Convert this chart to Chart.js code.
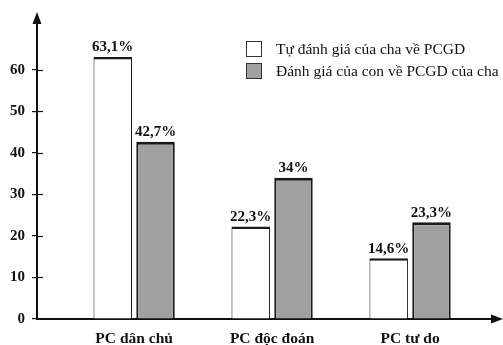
<!DOCTYPE html>
<html>
<head>
<meta charset="utf-8">
<script src="https://cdn.jsdelivr.net/npm/chart.js@4.4.0/dist/chart.umd.min.js"></script>
<style>
  html, body { margin: 0; padding: 0; background: #fff; }
  #wrap { width: 503px; height: 345px; position: relative; }
</style>
</head>
<body>
<div id="wrap"><canvas id="c" width="503" height="345"></canvas></div>
<script>
// Parenting styles and the two ratings compared
const categories = ['PC dân chủ', 'PC độc đoán', 'PC tư do'];
const fatherSelf = [63.1, 22.3, 14.6];
const childView = [42.7, 34, 23.3];
const seriesNames = ['Tự đánh giá của cha về PCGD', 'Đánh giá của con về PCGD của cha'];
const yTicks = [0, 10, 20, 30, 40, 50, 60];

const SERIF = '"Liberation Serif", "DejaVu Serif", serif';

const toPoints = vals => vals.map((v, i) => ({ x: i, y: v }));
const fmtPct = v => String(v).replace('.', ',') + '%';

// Arrowed axes, inner tick stubs, value labels and legend
const decor = {
  id: 'decor',
  afterDraw(chart) {
    const ctx = chart.ctx;
    const a = chart.chartArea;
    const ys = chart.scales.y;
    ctx.save();
    ctx.strokeStyle = '#111';
    ctx.fillStyle = '#111';
    // vertical axis extension and arrow
    ctx.lineWidth = 2;
    ctx.beginPath();
    ctx.moveTo(a.left, a.top + 2);
    ctx.lineTo(a.left, 20);
    ctx.stroke();
    ctx.beginPath();
    ctx.moveTo(a.left, 12);
    ctx.lineTo(a.left - 4.5, 24);
    ctx.lineTo(a.left + 4.5, 24);
    ctx.closePath();
    ctx.fill();
    // horizontal axis arrow
    ctx.beginPath();
    ctx.moveTo(503, a.bottom);
    ctx.lineTo(491, a.bottom - 4.5);
    ctx.lineTo(491, a.bottom + 4.5);
    ctx.closePath();
    ctx.fill();
    // tick stubs on the inner side of the vertical axis
    ctx.lineWidth = 1.2;
    ys.ticks.forEach(t => {
      if (t.value === 0) return;
      const py = Math.round(ys.getPixelForValue(t.value)) + 0.5;
      ctx.beginPath();
      ctx.moveTo(a.left, py);
      ctx.lineTo(a.left + 6, py);
      ctx.stroke();
    });
    // value labels above bars
    ctx.font = 'bold 15px ' + SERIF;
    ctx.textAlign = 'center';
    ctx.textBaseline = 'bottom';
    chart.data.datasets.forEach((ds, di) => {
      chart.getDatasetMeta(di).data.forEach((bar, i) => {
        ctx.fillText(fmtPct(ds.data[i].y), bar.x, bar.y - 2);
      });
    });
    // legend
    ctx.font = '15.5px ' + SERIF;
    ctx.textAlign = 'left';
    ctx.textBaseline = 'middle';
    chart.data.datasets.forEach((ds, di) => {
      const bx = 246, by = 41 + di * 22;
      ctx.fillStyle = ds.backgroundColor;
      ctx.fillRect(bx, by, 16, 16);
      ctx.strokeStyle = '#333';
      ctx.lineWidth = 1;
      ctx.strokeRect(bx + 0.5, by + 0.5, 15, 15);
      ctx.fillStyle = '#111';
      ctx.fillText(ds.label, 276, by + 8.5);
    });
    ctx.restore();
  }
};

new Chart(document.getElementById('c'), {
  type: 'bar',
  data: {
    datasets: [
      {
        label: seriesNames[0],
        data: toPoints(fatherSelf),
        backgroundColor: '#ffffff',
        borderColor: '#1a1a1a',
        borderWidth: { top: 2.5, left: 1, right: 1, bottom: 0 },
        borderSkipped: false
      },
      {
        label: seriesNames[1],
        data: toPoints(childView),
        backgroundColor: '#a0a0a0',
        borderColor: '#1a1a1a',
        borderWidth: { top: 3, left: 2, right: 2, bottom: 0 },
        borderSkipped: false
      }
    ]
  },
  options: {
    responsive: false,
    animation: false,
    events: [],
    categoryPercentage: 0.62,
    barPercentage: 0.9,
    layout: { padding: { top: 20, right: 6, left: 0, bottom: 0 } },
    plugins: { legend: { display: false }, tooltip: { enabled: false }, title: { display: false } },
    scales: {
      x: {
        type: 'linear',
        offset: false,
        bounds: 'data',
        min: -0.704,
        max: 2.63,
        afterBuildTicks: s => { s.ticks = categories.map((_, i) => ({ value: i })); },
        afterFit: s => { s.height = 26; },
        grid: { display: false, drawTicks: false, offset: false },
        border: { display: true, color: '#111', width: 2 },
        ticks: {
          padding: 11,
          color: '#111',
          font: { family: SERIF, size: 15.5, weight: 'bold' },
          callback: v => categories[v] ?? ''
        }
      },
      y: {
        min: 0,
        max: 72,
        afterBuildTicks: s => { s.ticks = yTicks.map(v => ({ value: v })); },
        afterFit: s => { s.width = 37; },
        grid: { drawOnChartArea: false, drawTicks: true, tickLength: 5, color: '#111', lineWidth: 1.2 },
        border: { display: true, color: '#111', width: 2 },
        ticks: {
          padding: 7,
          color: '#111',
          font: { family: SERIF, size: 15, weight: 'bold' }
        }
      }
    }
  },
  plugins: [decor]
});
</script>
</body>
</html>
